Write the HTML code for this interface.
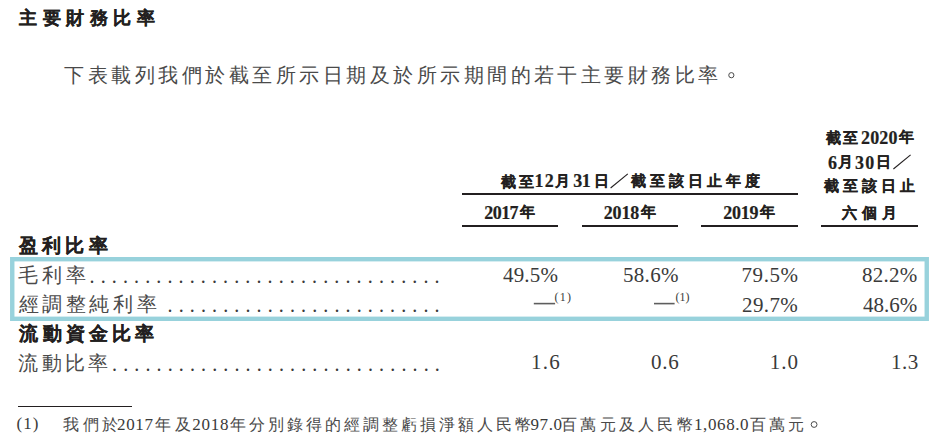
<!DOCTYPE html>
<html lang="zh-Hant">
<head>
<meta charset="utf-8">
<style>
html,body{margin:0;padding:0;background:#fff;}
body{width:932px;height:440px;position:relative;overflow:hidden;font-family:"Liberation Serif",serif;color:#3a3a3a;}
.k{color:#231f20;-webkit-text-stroke:0.2px #231f20;}
.c{color:#4a4a4a;}
.r{position:absolute;white-space:nowrap;line-height:1;}
.rule{position:absolute;background:#231f20;}
.dots{position:absolute;font-size:20px;line-height:1;white-space:nowrap;letter-spacing:6.13px;}
</style>
</head>
<body>
<div class="r k" id="title" style="left:19.40px;top:9.12px;font-size:18px;font-weight:700;letter-spacing:5.48px;">主要財務比率</div>
<div class="r c" id="para" style="left:64.40px;top:64.85px;font-size:20px;letter-spacing:3.48px;">下表載列我們於截至所示日期及於所示期間的若干主要財務比率</div>
<div class="r k" id="h1a" style="left:826.00px;top:130.60px;font-size:15px;font-weight:700;letter-spacing:2.25px;">截至</div>
<div class="r k" id="h1b" style="left:861.00px;top:128.90px;font-size:18px;font-weight:700;letter-spacing:0.18px;">2020</div>
<div class="r k" id="h1c" style="left:899.00px;top:130.10px;font-size:15px;font-weight:700;">年</div>
<div class="r k" id="h2a" style="left:828.00px;top:153.70px;font-size:18px;font-weight:700;">6</div>
<div class="r k" id="h2b" style="left:838.00px;top:155.10px;font-size:15px;font-weight:700;">月</div>
<div class="r k" id="h2c" style="left:855.00px;top:153.70px;font-size:18px;font-weight:700;letter-spacing:1.25px;">30</div>
<div class="r k" id="h2d" style="left:876.00px;top:155.10px;font-size:15px;font-weight:700;">日</div>
<div class="r k" id="h3" style="left:824.00px;top:178.60px;font-size:15px;font-weight:700;letter-spacing:3.88px;">截至該日止</div>
<div class="r k" id="h4" style="left:842.00px;top:205.55px;font-size:15px;font-weight:700;letter-spacing:4.95px;">六個月</div>
<div class="r k" id="m1" style="left:501.40px;top:174.55px;font-size:15px;font-weight:700;letter-spacing:3.00px;">截至</div>
<div class="r k" id="m2" style="left:534.40px;top:172.05px;font-size:18px;font-weight:700;letter-spacing:1.40px;">12</div>
<div class="r k" id="m3" style="left:554.80px;top:174.05px;font-size:15px;font-weight:700;">月</div>
<div class="r k" id="m4" style="left:573.20px;top:172.05px;font-size:18px;font-weight:700;letter-spacing:-0.50px;">31</div>
<div class="r k" id="m5" style="left:593.60px;top:174.05px;font-size:15px;font-weight:700;">日</div>
<div class="r k" id="m7" style="left:631.00px;top:174.05px;font-size:15px;font-weight:700;letter-spacing:3.97px;">截至該日止年度</div>
<div class="r k" id="y1a" style="left:484.20px;top:203.70px;font-size:18px;font-weight:700;letter-spacing:-0.53px;">2017</div>
<div class="r k" id="y1b" style="left:520.40px;top:204.90px;font-size:15px;font-weight:700;">年</div>
<div class="r k" id="y2a" style="left:603.80px;top:203.70px;font-size:18px;font-weight:700;letter-spacing:-0.20px;">2018</div>
<div class="r k" id="y2b" style="left:641.00px;top:204.90px;font-size:15px;font-weight:700;">年</div>
<div class="r k" id="y3a" style="left:723.20px;top:203.70px;font-size:18px;font-weight:700;letter-spacing:-0.20px;">2019</div>
<div class="r k" id="y3b" style="left:760.40px;top:204.90px;font-size:15px;font-weight:700;">年</div>
<div class="r k" id="ying" style="left:19.00px;top:237.10px;font-size:18.5px;font-weight:700;letter-spacing:4.20px;">盈利比率</div>
<div class="r c" id="maoli" style="left:18.00px;top:265.05px;font-size:20px;letter-spacing:3.95px;">毛利率</div>
<div class="r c" id="jtz" style="left:18.60px;top:293.55px;font-size:20px;letter-spacing:3.62px;">經調整純利率</div>
<div class="r k" id="liud" style="left:19.40px;top:324.95px;font-size:18.5px;font-weight:700;letter-spacing:4.18px;">流動資金比率</div>
<div class="r c" id="ldbl" style="left:18.40px;top:353.35px;font-size:20px;letter-spacing:3.17px;">流動比率</div>
<div class="r" id="v11" style="left:503.00px;top:265.35px;font-size:21px;letter-spacing:0.18px;">49.5%</div>
<div class="r" id="v12" style="left:623.00px;top:265.35px;font-size:21px;letter-spacing:0.30px;">58.6%</div>
<div class="r" id="v13" style="left:741.60px;top:265.35px;font-size:21px;letter-spacing:0.52px;">79.5%</div>
<div class="r" id="v14" style="left:862.00px;top:265.35px;font-size:21px;letter-spacing:0.25px;">82.2%</div>
<div class="r" id="v23" style="left:742.00px;top:294.60px;font-size:21px;letter-spacing:0.38px;">29.7%</div>
<div class="r" id="v24" style="left:863.00px;top:294.60px;font-size:21px;">48.6%</div>
<div class="r" id="s1" style="left:554.60px;top:291.10px;font-size:12px;letter-spacing:1.20px;">(1)</div>
<div class="r" id="s2" style="left:675.40px;top:290.60px;font-size:12px;letter-spacing:0.10px;">(1)</div>
<div class="r" id="v31" style="left:531.00px;top:351.75px;font-size:21px;letter-spacing:1.25px;">1.6</div>
<div class="r" id="v32" style="left:651.00px;top:351.75px;font-size:21px;letter-spacing:0.75px;">0.6</div>
<div class="r" id="v33" style="left:769.80px;top:351.75px;font-size:21px;letter-spacing:1.00px;">1.0</div>
<div class="r" id="v34" style="left:891.00px;top:351.75px;font-size:21px;letter-spacing:0.50px;">1.3</div>
<div class="r" id="fn1" style="left:16.60px;top:415.25px;font-size:17px;letter-spacing:1.00px;">(1)</div>
<div class="r c" id="fa" style="left:63.00px;top:417.00px;font-size:16px;letter-spacing:3.50px;">我們於</div>
<div class="r" id="fb" style="left:117.00px;top:416.45px;font-size:17px;letter-spacing:0.63px;">2017</div>
<div class="r c" id="fc" style="left:155.20px;top:417.00px;font-size:16px;letter-spacing:4.20px;">年及</div>
<div class="r" id="fd" style="left:192.20px;top:416.45px;font-size:17px;letter-spacing:0.73px;">2018</div>
<div class="r c" id="fe" style="left:229.60px;top:417.00px;font-size:16px;letter-spacing:3.06px;">年分別錄得的經調整虧損淨額人民幣</div>
<div class="r" id="ff" style="left:530.60px;top:416.45px;font-size:17px;letter-spacing:0.53px;">97.0</div>
<div class="r c" id="fg" style="left:561.00px;top:417.00px;font-size:16px;letter-spacing:3.27px;">百萬元及人民幣</div>
<div class="r" id="fh" style="left:694.00px;top:415.95px;font-size:17px;letter-spacing:0.60px;">1,068.0</div>
<div class="r c" id="fi" style="left:750.20px;top:417.00px;font-size:16px;letter-spacing:2.80px;">百萬元</div>

<div class="rule" style="left:462px;top:193px;width:336px;height:2px;"></div>
<div class="rule" style="left:462px;top:225px;width:96px;height:2px;"></div>
<div class="rule" style="left:582px;top:225px;width:96px;height:2px;"></div>
<div class="rule" style="left:701px;top:225px;width:97px;height:2px;"></div>
<div class="rule" style="left:821px;top:225px;width:97px;height:2px;"></div>
<svg style="position:absolute;left:0;top:0" width="932" height="440"><rect x="12.25" y="259.2" width="914.5" height="59.6" fill="none" stroke="#98d2dc" stroke-width="4.4"/></svg>
<div class="dots" style="left:89.5px;top:266px;">................................</div>
<div class="dots" style="left:167.5px;top:294.5px;">.........................</div>
<div class="dots" style="left:112px;top:353.5px;">..............................</div>
<div class="rule" style="left:17.5px;top:406px;width:114.5px;height:1px;"></div>
<svg style="position:absolute;left:0;top:0" width="932" height="440"><line x1="610.6" y1="188" x2="627.8" y2="173.8" stroke="#231f20" stroke-width="1.1"/><line x1="893.4" y1="169" x2="910.6" y2="154.8" stroke="#231f20" stroke-width="1.1"/><circle cx="731.35" cy="75.2" r="2.6" fill="none" stroke="#4a4a4a" stroke-width="1"/><circle cx="814.1" cy="424.5" r="2.9" fill="none" stroke="#4a4a4a" stroke-width="1"/><line x1="533.8" y1="303.6" x2="555.1" y2="303.6" stroke="#5e5e5e" stroke-width="1.6"/><line x1="654" y1="303.6" x2="674.6" y2="303.6" stroke="#5e5e5e" stroke-width="1.6"/></svg>

</body>
</html>
